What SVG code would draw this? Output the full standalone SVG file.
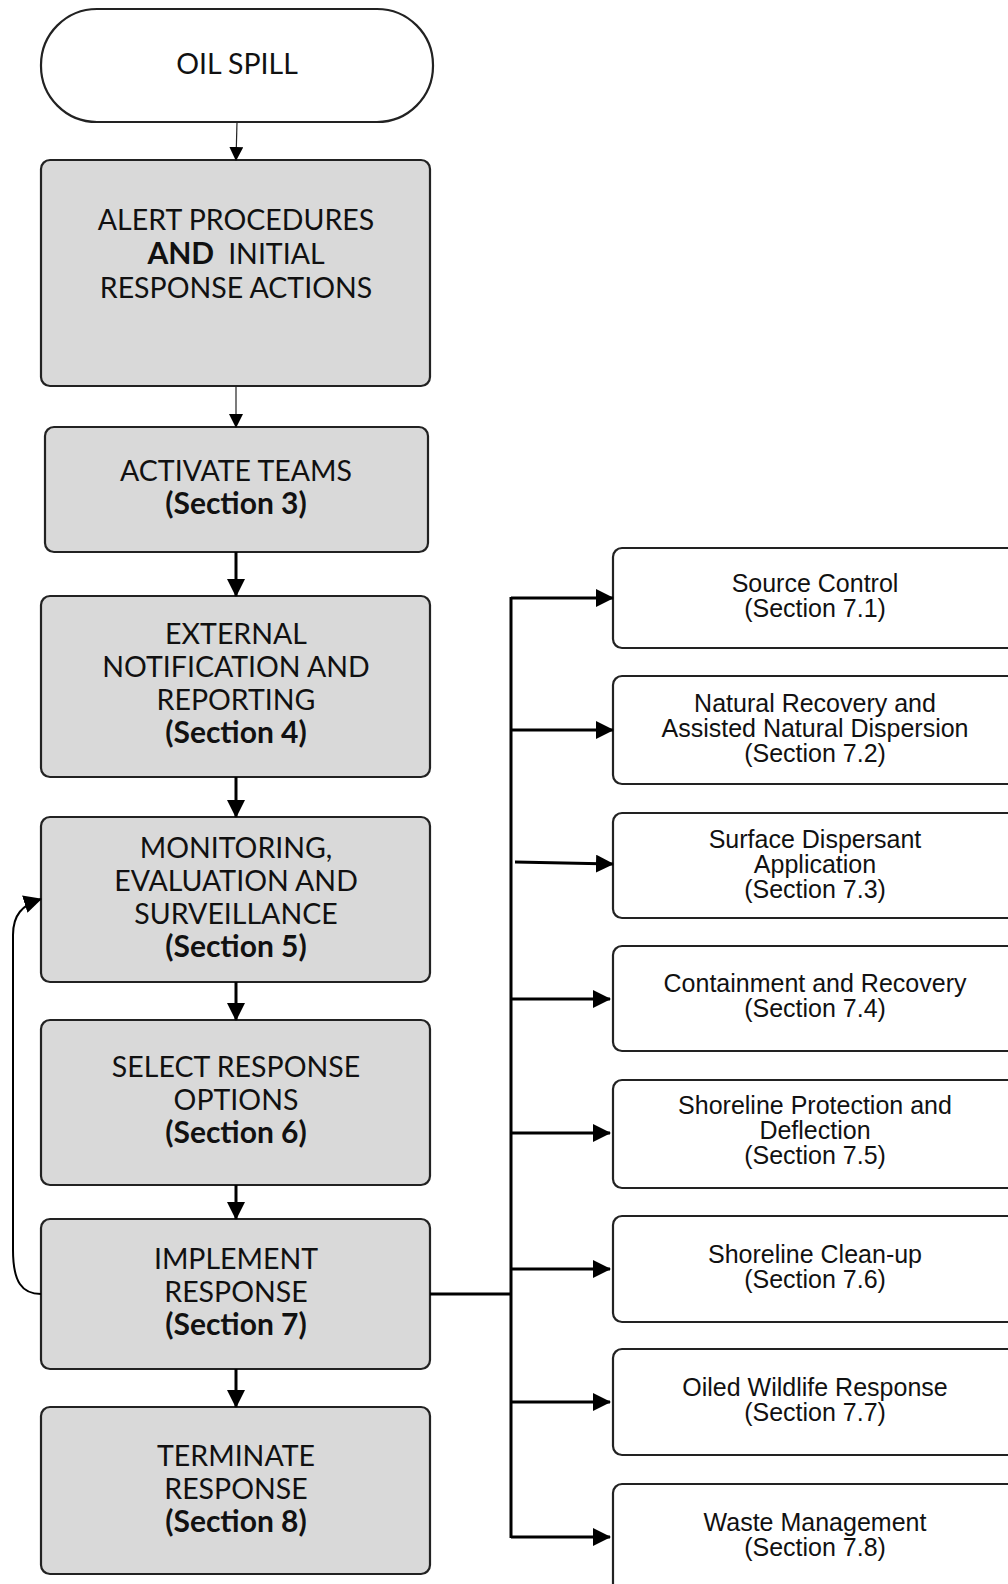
<svg xmlns="http://www.w3.org/2000/svg" width="1008" height="1584" viewBox="0 0 1008 1584">
<defs>
<style>
.main{fill:#d9d9d9;stroke:#222;stroke-width:2.2}
.opt{fill:#fff;stroke:#222;stroke-width:2.2}
.term{fill:#fff;stroke:#222;stroke-width:2.2}
.lt{font-family:Lato,"Open Sans",sans-serif;font-size:28.5px;fill:#111;text-anchor:middle}
.b{font-weight:bold;font-size:30px}
.rt{font-family:"Liberation Sans",Arial,sans-serif;font-size:25px;fill:#111;text-anchor:middle}
.thin{fill:none;stroke:#222;stroke-width:1.2}
.thick{fill:none;stroke:#000;stroke-width:3}
</style>
<marker id="ah" markerUnits="userSpaceOnUse" markerWidth="18" markerHeight="18" refX="17" refY="9" orient="auto">
<path d="M0,0 L18,9 L0,18 z" fill="#000"/>
</marker>
<marker id="ahs" markerUnits="userSpaceOnUse" markerWidth="14" markerHeight="14" refX="13" refY="7" orient="auto">
<path d="M0,0 L14,7 L0,14 z" fill="#000"/>
</marker>
</defs>

<g id="n-oil-spill">
<rect class="term" x="41" y="9" width="392" height="113" rx="56" ry="56"/>
<text class="lt" x="237" y="74">OIL SPILL</text>
</g>

<g id="n-alert">
<rect class="main" x="41" y="160" width="389" height="226" rx="9"/>
<text class="lt" x="236" y="230">ALERT PROCEDURES</text>
<text class="lt" x="236" y="264"><tspan class="b">AND</tspan><tspan dx="14">INITIAL</tspan></text>
<text class="lt" x="236" y="298">RESPONSE ACTIONS</text>
</g>

<g id="n-activate">
<rect class="main" x="45" y="427" width="383" height="125" rx="9"/>
<text class="lt" x="236" y="481">ACTIVATE TEAMS</text>
<text class="lt b" x="236" y="514">(Section 3)</text>
</g>

<g id="n-external">
<rect class="main" x="41" y="596" width="389" height="181" rx="9"/>
<text class="lt" x="236" y="644">EXTERNAL</text>
<text class="lt" x="236" y="677">NOTIFICATION AND</text>
<text class="lt" x="236" y="710">REPORTING</text>
<text class="lt b" x="236" y="743">(Section 4)</text>
</g>

<g id="n-monitoring">
<rect class="main" x="41" y="817" width="389" height="165" rx="9"/>
<text class="lt" x="236" y="858">MONITORING,</text>
<text class="lt" x="236" y="891">EVALUATION AND</text>
<text class="lt" x="236" y="924">SURVEILLANCE</text>
<text class="lt b" x="236" y="957">(Section 5)</text>
</g>

<g id="n-select">
<rect class="main" x="41" y="1020" width="389" height="165" rx="9"/>
<text class="lt" x="236" y="1077">SELECT RESPONSE</text>
<text class="lt" x="236" y="1110">OPTIONS</text>
<text class="lt b" x="236" y="1143">(Section 6)</text>
</g>

<g id="n-implement">
<rect class="main" x="41" y="1219" width="389" height="150" rx="9"/>
<text class="lt" x="236" y="1269">IMPLEMENT</text>
<text class="lt" x="236" y="1302">RESPONSE</text>
<text class="lt b" x="236" y="1335">(Section 7)</text>
</g>

<g id="n-terminate">
<rect class="main" x="41" y="1407" width="389" height="167" rx="9"/>
<text class="lt" x="236" y="1466">TERMINATE</text>
<text class="lt" x="236" y="1499">RESPONSE</text>
<text class="lt b" x="236" y="1532">(Section 8)</text>
</g>

<g id="n-7-1">
<rect class="opt" x="613" y="548" width="410" height="100" rx="9"/>
<text class="rt" x="815" y="592">Source Control</text>
<text class="rt" x="815" y="617">(Section 7.1)</text>
</g>
<g id="n-7-2">
<rect class="opt" x="613" y="676" width="410" height="108" rx="9"/>
<text class="rt" x="815" y="712">Natural Recovery and</text>
<text class="rt" x="815" y="737">Assisted Natural Dispersion</text>
<text class="rt" x="815" y="762">(Section 7.2)</text>
</g>
<g id="n-7-3">
<rect class="opt" x="613" y="813" width="410" height="105" rx="9"/>
<text class="rt" x="815" y="848">Surface Dispersant</text>
<text class="rt" x="815" y="873">Application</text>
<text class="rt" x="815" y="898">(Section 7.3)</text>
</g>
<g id="n-7-4">
<rect class="opt" x="613" y="946" width="410" height="105" rx="9"/>
<text class="rt" x="815" y="992">Containment and Recovery</text>
<text class="rt" x="815" y="1017">(Section 7.4)</text>
</g>
<g id="n-7-5">
<rect class="opt" x="613" y="1080" width="410" height="108" rx="9"/>
<text class="rt" x="815" y="1114">Shoreline Protection and</text>
<text class="rt" x="815" y="1139">Deflection</text>
<text class="rt" x="815" y="1164">(Section 7.5)</text>
</g>
<g id="n-7-6">
<rect class="opt" x="613" y="1216" width="410" height="106" rx="9"/>
<text class="rt" x="815" y="1263">Shoreline Clean-up</text>
<text class="rt" x="815" y="1288">(Section 7.6)</text>
</g>
<g id="n-7-7">
<rect class="opt" x="613" y="1349" width="410" height="106" rx="9"/>
<text class="rt" x="815" y="1396">Oiled Wildlife Response</text>
<text class="rt" x="815" y="1421">(Section 7.7)</text>
</g>
<g id="n-7-8">
<rect class="opt" x="613" y="1484" width="410" height="120" rx="9"/>
<text class="rt" x="815" y="1531">Waste Management</text>
<text class="rt" x="815" y="1556">(Section 7.8)</text>
</g>

<g id="connectors">
<line class="thin" x1="237" y1="122" x2="236" y2="160" marker-end="url(#ahs)"/>
<line class="thin" x1="236" y1="386" x2="236" y2="427" marker-end="url(#ahs)"/>
<line class="thick" x1="236" y1="552" x2="236" y2="596" marker-end="url(#ah)"/>
<line class="thick" x1="236" y1="777" x2="236" y2="817" marker-end="url(#ah)"/>
<line class="thick" x1="236" y1="982" x2="236" y2="1020" marker-end="url(#ah)"/>
<line class="thick" x1="236" y1="1185" x2="236" y2="1219" marker-end="url(#ah)"/>
<line class="thick" x1="236" y1="1369" x2="236" y2="1407" marker-end="url(#ah)"/>
<path fill="none" stroke="#000" stroke-width="2" d="M41,1294 C22,1294 13,1282 13,1250 L13,935 C13,915 22,905 41,899" marker-end="url(#ah)"/>
<path class="thick" d="M430,1294 H512"/>
<path class="thick" d="M511,597 V1538"/>
<line class="thick" x1="511" y1="598" x2="613" y2="598" marker-end="url(#ah)"/>
<line class="thick" x1="511" y1="730" x2="613" y2="730" marker-end="url(#ah)"/>
<line class="thick" x1="515" y1="862" x2="613" y2="864" marker-end="url(#ah)"/>
<line class="thick" x1="511" y1="999" x2="610" y2="999" marker-end="url(#ah)"/>
<line class="thick" x1="511" y1="1133" x2="610" y2="1133" marker-end="url(#ah)"/>
<line class="thick" x1="511" y1="1269" x2="610" y2="1269" marker-end="url(#ah)"/>
<line class="thick" x1="511" y1="1402" x2="610" y2="1402" marker-end="url(#ah)"/>
<path class="thick" d="M511,1537 H610" marker-end="url(#ah)"/>
</g>
</svg>
